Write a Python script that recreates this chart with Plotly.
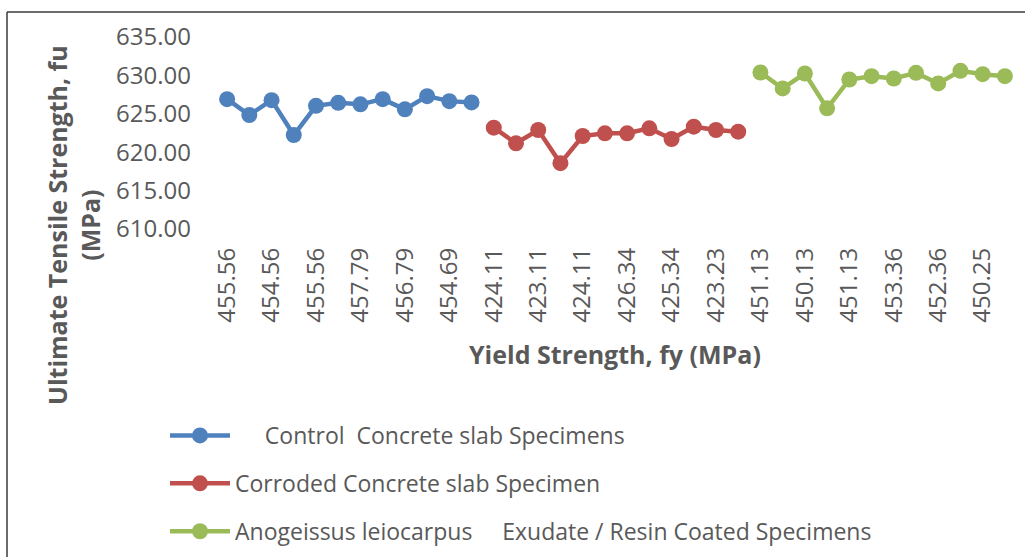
import plotly.graph_objects as go

# Ultimate tensile strength (MPa) for each specimen group
control_fu = [626.91, 624.84, 626.78, 622.24, 626.04, 626.43,
              626.23, 626.91, 625.58, 627.30, 626.65, 626.48]
corroded_fu = [623.19, 621.16, 622.89, 618.57, 622.11, 622.46,
               622.46, 623.11, 621.72, 623.32, 622.89, 622.67]
coated_fu = [630.38, 628.30, 630.25, 625.71, 629.47, 629.90,
             629.60, 630.33, 628.95, 630.59, 630.16, 629.90]

# Yield strength labels shown on every second category
fy_labels = ["455.56", "454.56", "455.56", "457.79", "456.79", "454.69",
             "424.11", "423.11", "424.11", "426.34", "425.34", "423.23",
             "451.13", "450.13", "451.13", "453.36", "452.36", "450.25"]

series = [
    ("\u00a0\u00a0\u00a0\u00a0\u00a0Control\u00a0\u00a0Concrete slab Specimens",
     control_fu, "#4F81BD"),
    ("Corroded Concrete slab Specimen", corroded_fu, "#C0504D"),
    ("Anogeissus leiocarpus\u00a0\u00a0\u00a0\u00a0\u00a0Exudate / Resin Coated Specimens",
     coated_fu, "#9BBB59"),
]

W, H = 1025, 557
L, R, T, B = 216, 9, 37, 328
pw, ph = W - L - R, H - T - B


def px_x(v):
    return (v - L) / pw


def px_y(v):
    return (H - B - v) / ph


fig = go.Figure()
start = 0
for i, (name, vals, color) in enumerate(series):
    xs = list(range(start, start + len(vals)))
    start += len(vals)
    fig.add_trace(go.Scatter(
        x=xs, y=vals, name=name, mode="lines+markers",
        line=dict(color=color, width=4.5),
        marker=dict(color=color, size=16),
        legendgroup=f"g{i}",
    ))

n_total = start
gray = "#595959"

fig.update_layout(
    width=W, height=H,
    margin=dict(l=L, r=R, t=T, b=B, autoexpand=False),
    paper_bgcolor="white", plot_bgcolor="white",
    font=dict(family="Open Sans", color=gray),
    showlegend=True,
    legend=dict(
        x=px_x(165), y=px_y(414), xanchor="left", yanchor="top",
        font=dict(size=23, color=gray, family="Open Sans"),
        tracegroupgap=15, bgcolor="rgba(0,0,0,0)",
        itemwidth=60,
    ),
    xaxis=dict(
        range=[-0.5, n_total - 0.5],
        tickmode="array",
        tickvals=list(range(0, n_total, 2)),
        ticktext=fy_labels,
        tickangle=-90,
        tickfont=dict(size=24, color=gray),
        showgrid=False, zeroline=False, showline=False,
        ticks="", ticklabelstandoff=13,
    ),
    yaxis=dict(
        range=[610, 635],
        tickmode="linear", tick0=610, dtick=5,
        tickformat=".2f",
        tickfont=dict(size=24, color=gray),
        showgrid=False, zeroline=False, showline=False,
        ticks="", ticklabelstandoff=24,
    ),
    annotations=[
        dict(text="<b>Ultimate Tensile Strength, fu<br>(MPa)</b>",
             textangle=-90, xref="paper", yref="paper",
             x=px_x(73), y=px_y(225), xanchor="center", yanchor="middle",
             showarrow=False, font=dict(size=25, color=gray)),
        dict(text="<b>Yield Strength, fy (MPa)</b>",
             xref="paper", yref="paper",
             x=px_x(615), y=px_y(354), xanchor="center", yanchor="middle",
             showarrow=False, font=dict(size=25, color=gray)),
    ],
    shapes=[
        dict(type="line", xref="paper", yref="paper",
             x0=px_x(7), x1=px_x(W + 5), y0=px_y(12), y1=px_y(12),
             line=dict(color="#3a3a3a", width=1.5)),
        dict(type="line", xref="paper", yref="paper",
             x0=px_x(7), x1=px_x(7), y0=px_y(12), y1=px_y(H + 5),
             line=dict(color="#3a3a3a", width=1.5)),
    ],
)

fig.write_html("out.html")
